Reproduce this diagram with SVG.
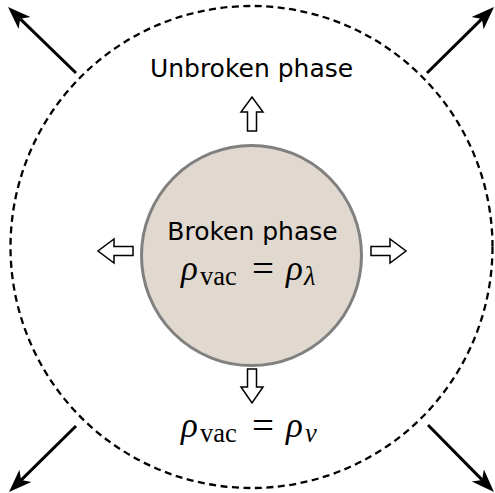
<svg xmlns="http://www.w3.org/2000/svg" width="495" height="493" viewBox="0 0 495 493">
<style>
.lbl{font-family:"DejaVu Sans",sans-serif;font-size:25px;fill:#000}
.m{font-family:"Liberation Serif",serif;font-size:35px;fill:#000}
.mi{font-style:italic}
.sub{font-size:26.5px}
.eq{font-size:39px}
.diag{stroke:#000;stroke-width:3;fill:none}
.head{fill:#000}
.blk{fill:#fff;stroke:#000;stroke-width:1.5;stroke-linejoin:miter}
</style>
<rect width="495" height="493" fill="#fff"/>
<g id="outer">
<circle cx="251.5" cy="247" r="241" fill="none" stroke="#000" stroke-width="2.3" stroke-dasharray="7,4.5"/>
</g>
<g id="inner">
<circle cx="251.5" cy="255.5" r="110" fill="#e1d9cf" stroke="#808080" stroke-width="3"/>
</g>
<g id="connectors">
<line class="diag" x1="76" y1="73" x2="20.2" y2="18.8"/>
<path class="head" d="M8,7 L30.4,16.9 L20.2,18.8 L18.6,29.1 Z"/>
<line class="diag" x1="427" y1="73" x2="481.9" y2="18.9"/>
<path class="head" d="M494,7 L471.6,17 L481.9,18.9 L483.6,29.2 Z"/>
<line class="diag" x1="76" y1="426" x2="21.1" y2="480.1"/>
<path class="head" d="M9,492 L19.4,469.8 L21.1,480.1 L31.4,482 Z"/>
<line class="diag" x1="428" y1="425" x2="482.1" y2="479.9"/>
<path class="head" d="M494,492 L483.9,469.6 L482.1,479.9 L471.8,481.6 Z"/>
<polygon class="blk" points="247.5,131 247.5,112 241,112 252,97 263,112 256.5,112 256.5,131"/>
<polygon class="blk" points="247.5,369 247.5,387 241,387 252,403 263,387 256.5,387 256.5,369"/>
<polygon class="blk" points="133,246.5 114,246.5 114,239 98,251 114,263 114,255.5 133,255.5"/>
<polygon class="blk" points="371,246.5 390,246.5 390,239 406,251 390,263 390,255.5 371,255.5"/>
</g>
<g id="labels">
<text class="lbl" x="251.5" y="77" text-anchor="middle">Unbroken phase</text>
<text class="lbl" x="252.5" y="240" text-anchor="middle">Broken phase</text>
<text class="m" y="280"><tspan class="mi" x="181">ρ</tspan><tspan class="sub" x="200" y="285">vac</tspan><tspan class="eq" x="252" y="282">=</tspan><tspan class="mi" x="286" y="280">ρ</tspan><tspan class="sub mi" x="304" y="285">λ</tspan></text>
<text class="m" y="437"><tspan class="mi" x="181">ρ</tspan><tspan class="sub" x="200" y="442">vac</tspan><tspan class="eq" x="252" y="439">=</tspan><tspan class="mi" x="286" y="437">ρ</tspan><tspan class="sub mi" x="305" y="442">v</tspan></text>
</g>
</svg>
